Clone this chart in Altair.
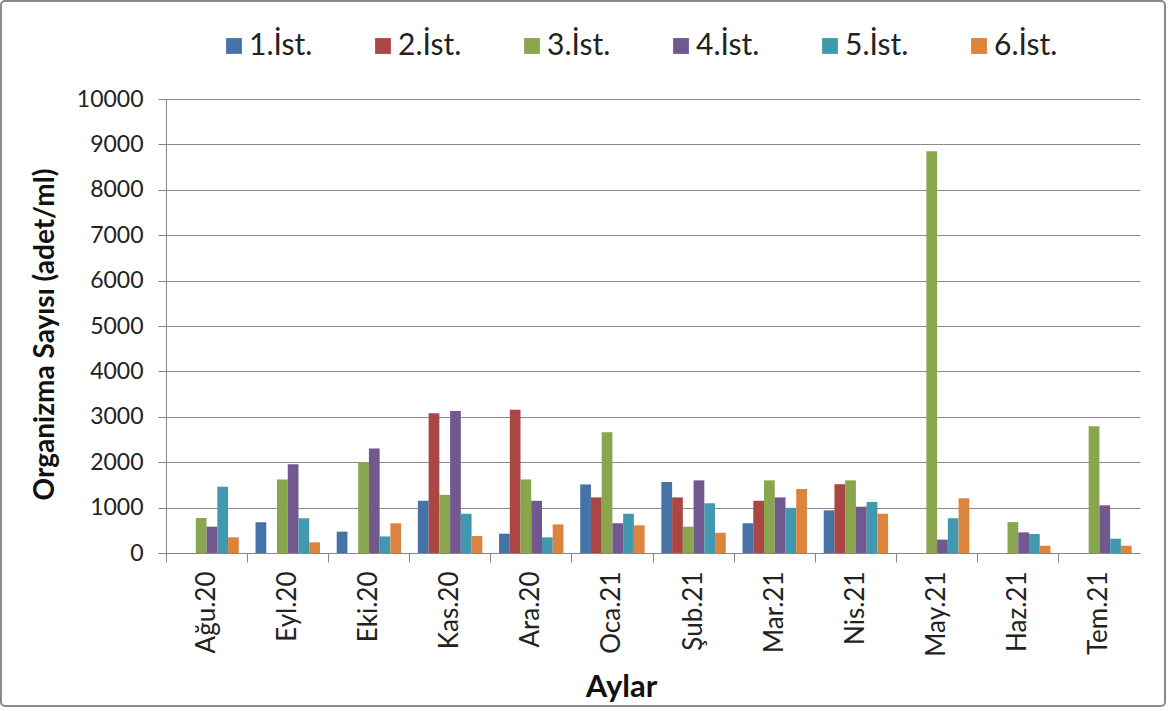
import altair as alt
import pandas as pd

months = ["Ağu.20", "Eyl.20", "Eki.20", "Kas.20", "Ara.20", "Oca.21",
          "Şub.21", "Mar.21", "Nis.21", "May.21", "Haz.21", "Tem.21"]
stations = ["1.İst.", "2.İst.", "3.İst.", "4.İst.", "5.İst.", "6.İst."]
colors = ["#4572A7", "#AA4643", "#89A54E", "#71588F", "#4198AF", "#DB843D"]

# None = no bar drawn
ist1 = [None, 680, 470, 1150, 425, 1510, 1565, 655, 940, None, None, None]
ist2 = [None, None, None, 3080, 3155, 1225, 1225, 1150, 1515, None, None, None]
ist3 = [770, 1620, 2000, 1280, 1620, 2660, 580, 1600, 1600, 8850, 680, 2790]
ist4 = [580, 1955, 2300, 3130, 1150, 655, 1600, 1225, 1020, 295, 455, 1050]
ist5 = [1460, 765, 365, 865, 345, 865, 1095, 995, 1125, 765, 420, 315]
ist6 = [345, 235, 655, 375, 630, 610, 445, 1410, 865, 1205, 160, 160]

series = [ist1, ist2, ist3, ist4, ist5, ist6]
rows = []
for st, vals in zip(stations, series):
    for m, v in zip(months, vals):
        if v is not None:
            rows.append({"Ay": m, "İstasyon": st, "Değer": v})
df = pd.DataFrame(rows)

FONT = "Lato"
W, H = 974, 454

bars = alt.Chart(df).mark_bar().encode(
    x=alt.X("Ay:N", sort=months, scale=alt.Scale(domain=months, paddingInner=0, paddingOuter=0),
            axis=alt.Axis(title="Aylar", labelAngle=-90, labelFontSize=26, labelColor="#222",
                          labelPadding=9, bandPosition=0, tickSize=9, tickColor="#868686",
                          domainColor="#868686", titleFontSize=31, titleFontWeight="bold",
                          titleColor="#111", titleX=455, titleY=134, titleAlign="center",
                          titleBaseline="middle")),
    xOffset=alt.XOffset("İstasyon:N", sort=stations,
                        scale=alt.Scale(domain=stations, paddingInner=0, paddingOuter=0.78)),
    y=alt.Y("Değer:Q", scale=alt.Scale(domain=[0, 10000], nice=False),
            axis=alt.Axis(title="Organizma Sayısı (adet/ml)", values=list(range(0, 10001, 1000)),
                          format="d", labelFontSize=23, labelColor="#222", labelPadding=15,
                          tickSize=8, tickColor="#868686", domainColor="#868686",
                          gridColor="#8a8a8a", titleFontSize=28, titleFontWeight="bold",
                          titleColor="#111", titleX=-121, titleY=235, titleAlign="center",
                          titleBaseline="middle")),
    color=alt.Color("İstasyon:N", sort=stations,
                    scale=alt.Scale(domain=stations, range=colors),
                    legend=alt.Legend(title=None, orient="none", legendX=53, legendY=-68,
                                      direction="horizontal", columns=6, symbolType="square",
                                      symbolSize=250, symbolStrokeWidth=0, labelFontSize=30,
                                      labelColor="#222", labelOffset=0, columnPadding=55)),
)

frame = alt.Chart(pd.DataFrame({"a": [0]})).mark_rect(
    filled=False, stroke="#8a8a8a", strokeWidth=2, cornerRadius=4, clip=False
).encode(x=alt.value(-165), x2=alt.value(W + 25), y=alt.value(-98), y2=alt.value(H + 153))

chart = alt.layer(frame, bars).properties(
    width=W, height=H,
    autosize=alt.AutoSizeParams(type="none"),
    padding={"left": 166, "top": 99, "right": 32, "bottom": 158},
).configure(font=FONT).configure_view(stroke=None)

chart.save("out.html", embed_options={"renderer": "svg", "actions": False})
